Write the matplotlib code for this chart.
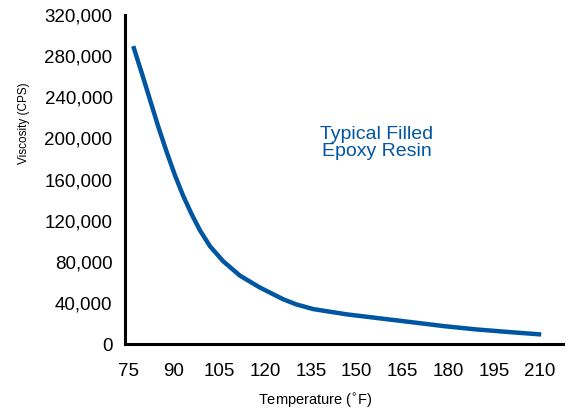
import matplotlib
matplotlib.use("Agg")
import matplotlib.pyplot as plt
from matplotlib.ticker import FuncFormatter

plt.rcParams['font.family'] = ['Liberation Sans', 'DejaVu Sans']

# Viscosity curve
temp_f = [76.7, 79.5, 82.2, 84.9, 87.7, 90.4, 93.1, 95.9, 98.6, 101.9,
          106.2, 111.7, 118.2, 125.9, 130.2, 135.7, 146.6, 157.5, 169.5,
          178.3, 189.2, 200.1, 210.5]
viscosity_cps = [289800, 263500, 237500, 211500, 186500, 164000, 144000, 126000, 110500, 95000,
                 80500, 66500, 55000, 43500, 38500, 34000, 28900, 25000, 20700,
                 17500, 14200, 11600, 9300]

x_ticks = [75, 90, 105, 120, 135, 150, 165, 180, 195, 210]
y_ticks = [0, 40000, 80000, 120000, 160000, 200000, 240000, 280000, 320000]

blue = '#0056a0'

fig = plt.figure(figsize=(5.69, 4.12), dpi=100)
ax = fig.add_axes([0.2197, 0.165, 0.769, 0.7985])

ax.plot(temp_f, viscosity_cps, color=blue, lw=3.2,
        solid_capstyle='butt', solid_joinstyle='round')

ax.set_xlim(74.0, 217.5)
ax.set_ylim(0, 320000)
ax.set_xticks(x_ticks)
ax.set_yticks(y_ticks)
ax.yaxis.set_major_formatter(FuncFormatter(lambda v, p: f"{int(v):,}"))

for s in ['top', 'right']:
    ax.spines[s].set_visible(False)
for s in ['left', 'bottom']:
    ax.spines[s].set_linewidth(2.2)
    ax.spines[s].set_color('black')

ax.tick_params(axis='x', length=0, pad=14, labelsize=13.5)
ax.tick_params(axis='y', length=0, pad=9, labelsize=13.5)

ax.set_ylabel("Viscosity (CPS)", fontsize=8.5)
ax.yaxis.set_label_coords(-0.218, 0.67)
ax.set_xlabel("Temperature ($^{\\circ}$F)", fontsize=10.5)
ax.xaxis.set_label_coords(0.435, -0.146)

ax.text(156.5, 195300, "Typical Filled\nEpoxy Resin", color=blue, fontsize=14,
        ha='center', va='center', linespacing=1.0)

fig.savefig("out.png", dpi=100)
